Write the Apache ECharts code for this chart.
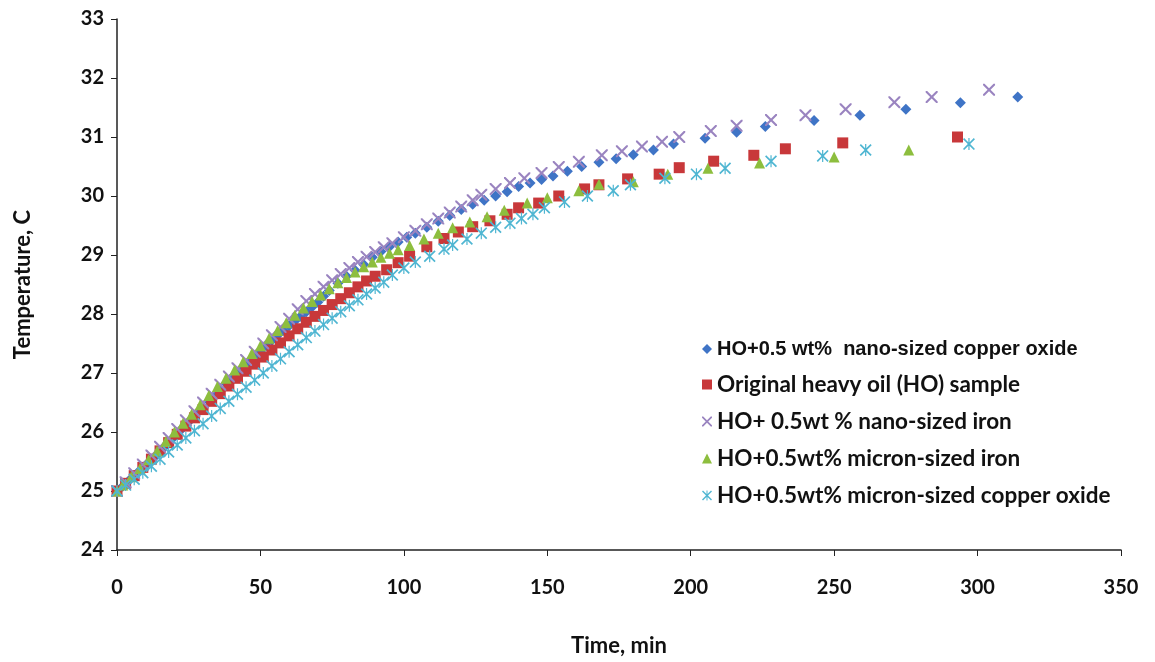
<!DOCTYPE html>
<html>
<head>
<meta charset="utf-8">
<script src="https://cdn.jsdelivr.net/npm/echarts@6/dist/echarts.min.js"></script>
<style>
  html, body { margin: 0; padding: 0; background: #fff; }
  #chart { width: 1155px; height: 662px; }
</style>
</head>
<body>
<div id="chart"></div>
<script>
// series names, as in the legend
const seriesNames = [
  "HO+0.5 wt%  nano-sized copper oxide",
  "Original heavy oil (HO) sample",
  "HO+ 0.5wt % nano-sized iron",
  "HO+0.5wt% micron-sized iron",
  "HO+0.5wt% micron-sized copper oxide"
];

// [time min, temperature C]
const nanoCuO = [[0,25.0],[2,25.08],[4,25.17],[6,25.26],[8,25.35],[10,25.44],[12,25.53],[14,25.62],[16,25.72],[18,25.82],
  [20,25.92],[22,26.02],[24,26.12],[26,26.22],[28,26.32],[30,26.42],[32,26.52],[34,26.62],[36,26.72],[38,26.82],
  [40,26.92],[42,27.01],[44,27.1],[46,27.19],[48,27.28],[50,27.37],[52,27.46],[54,27.55],[56,27.64],[58,27.72],
  [60,27.8],[62,27.88],[64,27.96],[66,28.04],[68,28.12],[70,28.2],[72,28.3],[74,28.4],[77,28.52],[80,28.64],
  [83,28.74],[86,28.84],[89,28.96],[92,29.06],[95,29.14],[98,29.22],[101,29.3],[104,29.37],[108,29.47],[112,29.57],
  [116,29.67],[120,29.77],[124,29.86],[128,29.93],[132,30.0],[136,30.07],[140,30.16],[144,30.22],[148,30.28],[152,30.34],
  [157,30.42],[162,30.5],[168,30.57],[174,30.63],[180,30.7],[187,30.78],[194,30.88],[205,30.98],[216,31.08],[226,31.18],
  [243,31.28],[259,31.37],[275,31.47],[294,31.58],[314,31.68]];

const original = [[0,25.0],[3,25.13],[6,25.26],[9,25.4],[12,25.54],[15,25.68],[18,25.82],[21,25.96],[24,26.1],[27,26.24],
  [30,26.38],[33,26.52],[36,26.65],[39,26.78],[42,26.91],[45,27.03],[48,27.15],[51,27.27],[54,27.39],[57,27.51],
  [60,27.63],[63,27.75],[66,27.86],[69,27.96],[72,28.06],[75,28.16],[78,28.26],[81,28.36],[84,28.46],[87,28.56],
  [90,28.64],[94,28.75],[98,28.87],[102,28.98],[108,29.14],[114,29.28],[119,29.39],[124,29.48],[130,29.58],[136,29.69],
  [140,29.8],[147,29.88],[154,30.0],[163,30.12],[168,30.19],[178,30.29],[189,30.37],[196,30.48],[208,30.59],[222,30.69],
  [233,30.8],[253,30.9],[293,31.0]];

const nanoIron = [[0,25.0],[3,25.15],[6,25.3],[9,25.45],[12,25.6],[15,25.75],[18,25.9],[21,26.05],[24,26.2],[27,26.35],
  [30,26.5],[33,26.65],[36,26.8],[39,26.94],[42,27.08],[45,27.22],[48,27.36],[51,27.5],[54,27.64],[57,27.78],
  [60,27.92],[63,28.08],[66,28.22],[69,28.34],[72,28.46],[75,28.57],[78,28.68],[81,28.78],[84,28.88],[87,28.97],
  [90,29.05],[93,29.13],[96,29.2],[100,29.3],[104,29.41],[108,29.52],[112,29.62],[116,29.72],[120,29.82],[124,29.93],
  [127,30.02],[132,30.12],[137,30.22],[142,30.3],[148,30.39],[154,30.49],[161,30.58],[169,30.69],[176,30.76],[183,30.84],
  [190,30.92],[196,31.0],[207,31.1],[216,31.19],[228,31.29],[240,31.37],[254,31.47],[271,31.59],[284,31.68],[304,31.8]];

const micronIron = [[0,25.0],[2,25.1],[5,25.24],[8,25.38],[11,25.53],[14,25.68],[17,25.84],[20,26.0],[23,26.15],[26,26.3],
  [29,26.46],[32,26.62],[35,26.77],[38,26.91],[41,27.05],[44,27.19],[47,27.33],[50,27.46],[53,27.59],[56,27.72],
  [59,27.85],[62,27.98],[65,28.1],[68,28.21],[71,28.32],[74,28.43],[77,28.53],[80,28.62],[83,28.71],[86,28.8],
  [89,28.88],[92,28.96],[95,29.03],[98,29.09],[102,29.16],[107,29.27],[112,29.37],[117,29.46],[123,29.56],[129,29.65],
  [135,29.76],[143,29.88],[150,29.97],[161,30.09],[168,30.2],[180,30.24],[192,30.37],[206,30.47],[224,30.56],[250,30.66],
  [276,30.78]];

const micronCuO = [[0,25.0],[3,25.1],[6,25.2],[9,25.31],[12,25.42],[15,25.54],[18,25.66],[21,25.78],[24,25.9],[27,26.02],
  [30,26.14],[33,26.27],[36,26.4],[39,26.52],[42,26.64],[45,26.76],[48,26.88],[51,27.0],[54,27.12],[57,27.24],
  [60,27.36],[63,27.48],[66,27.6],[69,27.71],[72,27.82],[75,27.93],[78,28.04],[81,28.14],[84,28.24],[87,28.34],
  [90,28.44],[93,28.54],[96,28.66],[100,28.78],[104,28.88],[109,28.98],[114,29.1],[117,29.17],[122,29.27],[127,29.37],
  [132,29.47],[137,29.54],[141,29.62],[145,29.69],[149,29.8],[156,29.9],[164,30.0],[173,30.09],[179,30.19],[191,30.3],
  [202,30.37],[212,30.47],[228,30.59],[246,30.68],[261,30.78],[297,30.88]];

// excel-like markers
const xMark = "path://M0,0 L2.5,0 L10,7.5 L17.5,0 L20,0 L20,2.5 L12.5,10 L20,17.5 L20,20 L17.5,20 L10,12.5 L2.5,20 L0,20 L0,17.5 L7.5,10 L0,2.5 Z";
const starMark = "path://M0,2 L2,0 L10,8 L18,0 L20,2 L12,10 L20,18 L18,20 L10,12 L2,20 L0,18 L8,10 Z M9,0 L11,0 L11,20 L9,20 Z";

const colors = ["#3F74C6", "#C8383A", "#9A84C0", "#8DBE3E", "#4FB6D2"];
const symbols = ["diamond", "rect", xMark, "triangle", starMark];
const sizes = [11, 11, 12, 11, 12];
const allData = [nanoCuO, original, nanoIron, micronIron, micronCuO];

const chart = echarts.init(document.getElementById("chart"));

const labelFont = "Lato, 'Open Sans', sans-serif";

const option = {
  backgroundColor: "#fff",
  animation: false,
  grid: { left: 117, right: 34, top: 19, bottom: 111 },
  legend: {
    orient: "vertical",
    left: 697,
    top: 334,
    itemGap: 14,
    itemWidth: 10,
    itemHeight: 10,
    textStyle: { fontFamily: labelFont, fontSize: 22.5, fontWeight: "bold", color: "#111" },
    data: seriesNames.map((n, i) => i === 0
      ? { name: n, textStyle: { fontFamily: "'Liberation Sans', Arial, sans-serif", fontSize: 20, fontWeight: "bold" } }
      : { name: n })
  },
  xAxis: {
    type: "value",
    min: 0,
    max: 350,
    interval: 50,
    name: "Time, min",
    nameLocation: "middle",
    nameGap: 85,
    nameTextStyle: { fontFamily: labelFont, fontSize: 22, fontWeight: "bold", color: "#111" },
    axisLine: { lineStyle: { color: "#222", width: 1.5 } },
    axisTick: { show: true, length: 6, lineStyle: { color: "#222" } },
    axisLabel: { margin: 28, fontFamily: labelFont, fontSize: 20, fontWeight: "bold", color: "#111" },
    splitLine: { show: false }
  },
  yAxis: {
    type: "value",
    min: 24,
    max: 33,
    interval: 1,
    name: "Temperature, C",
    nameLocation: "middle",
    nameGap: 83,
    nameTextStyle: { fontFamily: labelFont, fontSize: 22, fontWeight: "bold", color: "#111" },
    axisLine: { show: true, lineStyle: { color: "#222", width: 1.5 } },
    axisTick: { show: true, length: 6, lineStyle: { color: "#222" } },
    axisLabel: { margin: 13, fontFamily: labelFont, fontSize: 20, fontWeight: "bold", color: "#111" },
    splitLine: { show: false }
  },
  series: seriesNames.map((n, i) => ({
    name: n,
    type: "scatter",
    data: allData[i],
    symbol: symbols[i],
    symbolSize: sizes[i],
    itemStyle: { color: colors[i], opacity: 1 }
  }))
};

chart.setOption(option);
</script>
</body>
</html>
